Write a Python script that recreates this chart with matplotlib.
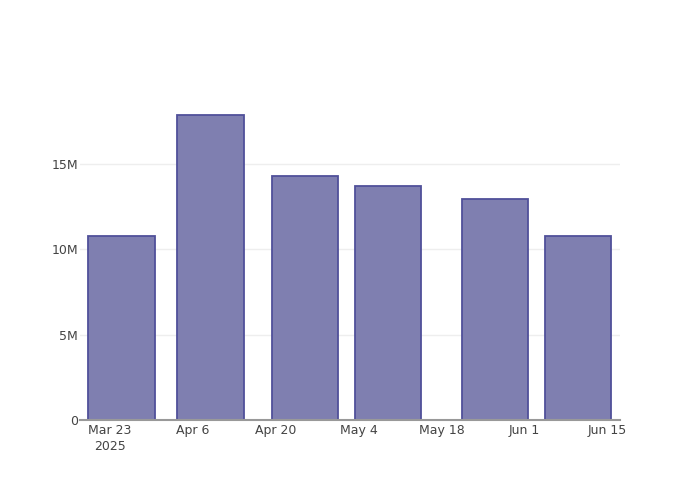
import matplotlib
matplotlib.use('Agg')
import matplotlib.pyplot as plt
import matplotlib.dates as mdates
import numpy as np
import pandas as pd

# data
dates = pd.to_datetime(['2025-03-25', '2025-04-09', '2025-04-25',
                        '2025-05-09', '2025-05-27', '2025-06-10'])
values = [10.79e6, 17.85e6, 14.29e6, 13.71e6, 12.93e6, 10.77e6]

tick_dates = pd.to_datetime(['2025-03-23', '2025-04-06', '2025-04-20', '2025-05-04',
                             '2025-05-18', '2025-06-01', '2025-06-15'])
tick_labels = ['Mar 23\n2025', 'Apr 6', 'Apr 20', 'May 4', 'May 18', 'Jun 1', 'Jun 15']
y_ticks = [0, 5e6, 10e6, 15e6]
y_labels = ['0', '5M', '10M', '15M']

fig = plt.figure(figsize=(7, 5), dpi=100)
ax = fig.add_axes([80 / 700, 80 / 500, 540 / 700, 320 / 500])

ax.bar(dates, values, width=11.2, color='#7f7fb0', edgecolor='#50509a',
       linewidth=1.3, zorder=3)

ax.set_xlim(pd.Timestamp('2025-03-18'), pd.Timestamp('2025-06-17 02:00'))
ax.set_ylim(0, 18.75e6)

ax.set_xticks(tick_dates)
ax.set_xticklabels(tick_labels, fontsize=9, color='#444444', linespacing=1.25)
ax.set_yticks(y_ticks)
ax.set_yticklabels(y_labels, fontsize=9, color='#444444')
ax.tick_params(axis='both', length=0, pad=3)
ax.tick_params(axis='y', pad=1.5)

for y in y_ticks[1:]:
    ax.axhline(y, color='#eeeeee', linewidth=1, zorder=1)

for s in ['top', 'right', 'left']:
    ax.spines[s].set_visible(False)
ax.spines['bottom'].set_color('#999999')
ax.spines['bottom'].set_linewidth(1.5)
ax.spines['bottom'].set_zorder(4)

fig.savefig('out.png', dpi=100)
